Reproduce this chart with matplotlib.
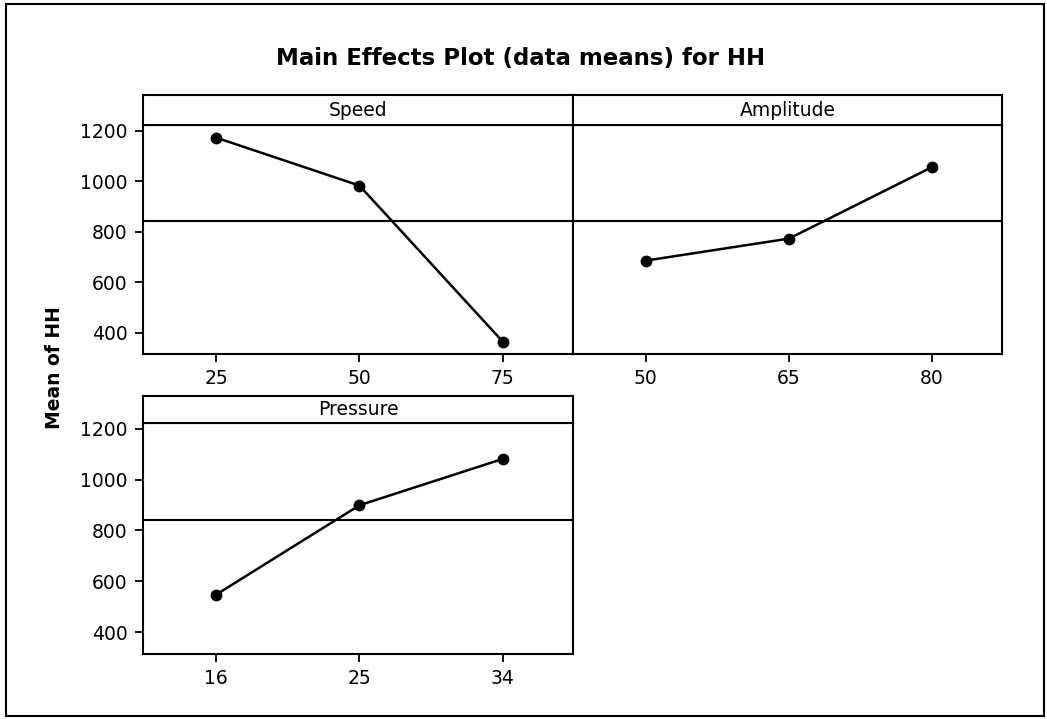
import matplotlib.pyplot as plt
from matplotlib.patches import Rectangle

# データ
speed_levels = ["25", "50", "75"]
speed_means = [1172, 982, 364]
amp_levels = ["50", "65", "80"]
amp_means = [685, 772, 1055]
press_levels = ["16", "25", "34"]
press_means = [548, 899, 1081]
grand_mean = 840

W, H = 1047, 719
fig = plt.figure(figsize=(W / 100, H / 100), dpi=100)

def box(x0, y0, x1, y1):
    # ピクセル座標 -> figure座標
    return [x0 / W, 1 - y1 / H, (x1 - x0) / W, (y1 - y0) / H]

def panel(rect_data, rect_head, name, levels, means, show_y):
    ax = fig.add_axes(box(*rect_data))
    hx = fig.add_axes(box(*rect_head))
    hx.set_xticks([])
    hx.set_yticks([])
    hx.text(0.5, 0.5, name, ha="center", va="center", fontsize=13.5)
    for a in (ax, hx):
        for s in a.spines.values():
            s.set_linewidth(1.5)
    x = range(len(levels))
    ax.plot(x, means, color="black", lw=1.8, marker="o", ms=7.5)
    ax.axhline(grand_mean, color="black", lw=1.5)
    ax.set_xlim(-0.51, 2.49)
    ax.set_ylim(315, 1222)
    ax.set_xticks(list(x))
    ax.set_xticklabels(levels)
    ax.set_yticks([400, 600, 800, 1000, 1200])
    ax.tick_params(labelsize=13.5, length=6, width=1.3, pad=5)
    if not show_y:
        ax.tick_params(axis="y", left=False, labelleft=False)
    return ax

panel((143, 125, 573, 354), (143, 95, 573, 125), "Speed", speed_levels, speed_means, True)
panel((573, 125, 1002, 354), (573, 95, 1002, 125), "Amplitude", amp_levels, amp_means, False)
panel((143, 423, 573, 654), (143, 396, 573, 423), "Pressure", press_levels, press_means, True)

fig.text(521 / W, 1 - 58 / H, "Main Effects Plot (data means) for HH",
         ha="center", va="center", fontsize=16.5, fontweight="bold")
fig.text(55 / W, 1 - 368 / H, "Mean of HH", rotation=90,
         ha="center", va="center", fontsize=13.5, fontweight="bold")

# 外枠
fig.patches.append(Rectangle((6 / W, 1 - 716 / H), 1038 / W, 712 / H,
                             transform=fig.transFigure, fill=False,
                             edgecolor="black", lw=1.5))

fig.savefig("out.png", dpi=100)
